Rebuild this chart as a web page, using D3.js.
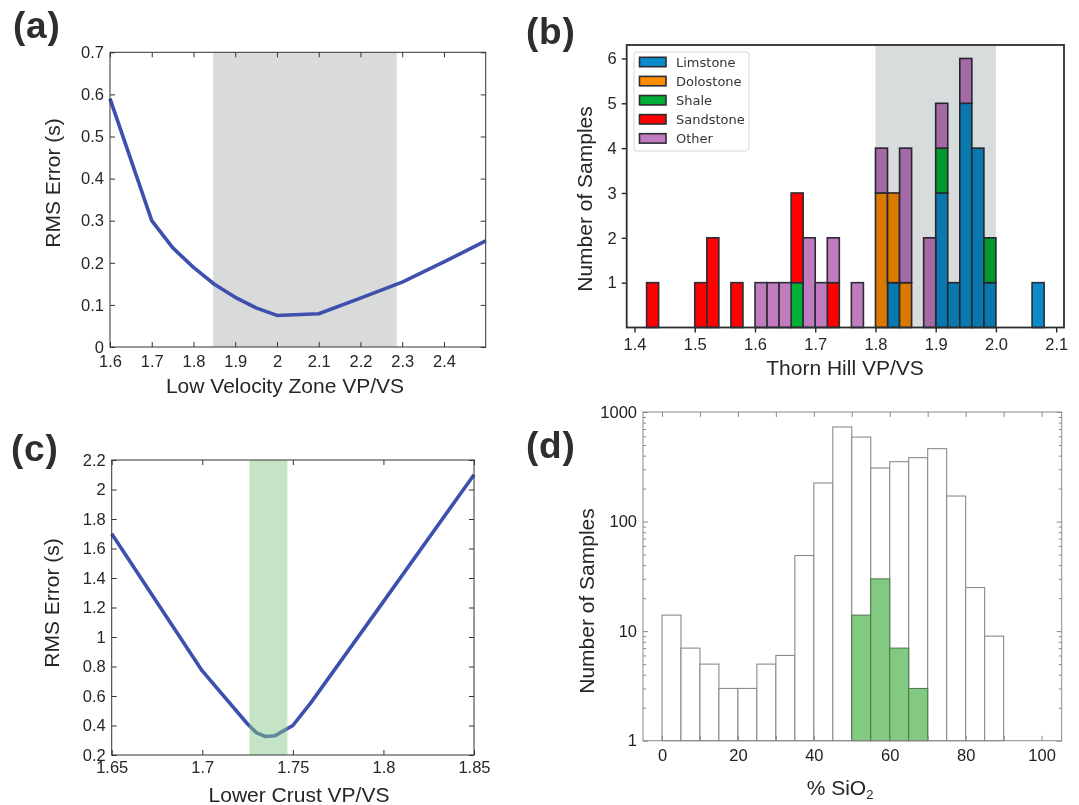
<!DOCTYPE html>
<html><head><meta charset="utf-8">
<script src="https://cdn.jsdelivr.net/npm/d3@7"></script>
<style>
body{margin:0;background:#fff}
svg{display:block}
text{font-family:"Liberation Sans",Arial,Helvetica,sans-serif}
</style>
</head><body>
<svg id="chart" width="1079" height="805"></svg>
<script>
// ---------------- DATA ----------------
// (a) Low velocity zone
const lvzVpVs = [1.6, 1.7, 1.75, 1.8, 1.85, 1.9, 1.95, 2.0, 2.1, 2.2, 2.3, 2.4, 2.5];
const lvzRms  = [0.59, 0.30, 0.236, 0.189, 0.149, 0.118, 0.093, 0.075, 0.079, 0.116, 0.154, 0.202, 0.252];
const lvzBand = [1.847, 2.287];
const lvzXTicks = [1.6, 1.7, 1.8, 1.9, 2.0, 2.1, 2.2, 2.3, 2.4];
const lvzYTicks = [0, 0.1, 0.2, 0.3, 0.4, 0.5, 0.6, 0.7];

// (b) Thorn Hill histogram (bin starts, width 0.02)
const thBinStarts = [1.42,1.50,1.52,1.56,1.60,1.62,1.64,1.66,1.68,1.70,1.72,1.76,1.80,1.82,1.84,1.88,1.90,1.92,1.94,1.96,1.98,2.06];
const thBinWidth = 0.02;
const limestone = [0,0,0,0,0,0,0,0,0,0,0,0,0,1,0,0,3,1,5,4,1,1];
const dolostone = [0,0,0,0,0,0,0,0,0,0,0,0,3,2,1,0,0,0,0,0,0,0];
const shale     = [0,0,0,0,0,0,0,1,0,0,0,0,0,0,0,0,1,0,0,0,1,0];
const sandstone = [1,1,2,1,0,0,0,2,0,0,1,0,0,0,0,0,0,0,0,0,0,0];
const other     = [0,0,0,0,1,1,1,0,2,1,1,1,1,0,3,2,1,0,1,0,0,0];
const rockTypes = ["Limstone", "Dolostone", "Shale", "Sandstone", "Other"];
const thBand = [1.8, 2.0];
const thXTicks = [1.4, 1.5, 1.6, 1.7, 1.8, 1.9, 2.0, 2.1];
const thYTicks = [1, 2, 3, 4, 5, 6];

// (c) Lower crust
const lcVpVs = [1.65, 1.70, 1.725, 1.73, 1.735, 1.74, 1.75, 1.76, 1.80, 1.85];
const lcRms  = [1.70, 0.77, 0.41, 0.35, 0.325, 0.33, 0.40, 0.555, 1.24, 2.10];
const lcBand = [1.726, 1.747];
const lcXTicks = [1.65, 1.7, 1.75, 1.8, 1.85];
const lcYTicks = [0.2, 0.4, 0.6, 0.8, 1.0, 1.2, 1.4, 1.6, 1.8, 2.0, 2.2];

// (d) SiO2 histogram (bin starts, width 5)
const sioBinStarts = [0,5,10,15,20,25,30,35,40,45,50,55,60,65,70,75,80,85];
const sioBinWidth = 5;
const sioAll = [14,7,5,3,3,5,6,49,225,730,590,308,352,383,463,171,25,9];
const sioSubStarts = [50,55,60,65];
const sioSub = [14,30,7,3];
const sioXTicks = [0,20,40,60,80,100];
const sioXMinor = [10,30,50,70,90];
const sioYTicks = [1,10,100,1000];

// ---------------- HELPERS ----------------
const svg = d3.select("#chart");
svg.append("rect").attr("width",1079).attr("height",805).attr("fill","#fff");
const fmtM = v => String(+v.toFixed(3));

function styleAxis(sel, color, fs, tcolor){
  sel.select(".domain").remove();
  sel.selectAll(".tick line").attr("stroke", color).attr("stroke-width",1);
  sel.selectAll(".tick text").attr("fill", tcolor).style("font-size", fs+"px")
     .style("font-family","'Liberation Sans',Arial,sans-serif");
}

function boxAxes(g, x, y, xt, yt, o){
  const [x0,x1] = x.range(), [y0,y1] = y.range();
  const c = o.color, tl = o.tick || 5, fs = o.fs || 16.5, tc = o.tcolor || "#262626";
  g.append("g").attr("transform",`translate(0,${y0})`)
    .call(d3.axisBottom(x).tickValues(xt).tickSizeInner(-tl).tickSizeOuter(0).tickPadding(o.xpad).tickFormat(o.xfmt))
    .call(s=>styleAxis(s,c,fs,tc));
  g.append("g").attr("transform",`translate(0,${y1})`)
    .call(d3.axisTop(x).tickValues(o.xtTop||xt).tickSizeInner(-tl).tickSizeOuter(0).tickFormat(""))
    .call(s=>styleAxis(s,c,fs,tc));
  g.append("g").attr("transform",`translate(${x0},0)`)
    .call(d3.axisLeft(y).tickValues(yt).tickSizeInner(-tl).tickSizeOuter(0).tickPadding(o.ypad).tickFormat(o.yfmt))
    .call(s=>styleAxis(s,c,fs,tc));
  g.append("g").attr("transform",`translate(${x1},0)`)
    .call(d3.axisRight(y).tickValues(yt).tickSizeInner(-tl).tickSizeOuter(0).tickFormat(""))
    .call(s=>styleAxis(s,c,fs,tc));
  g.append("rect").attr("x",x0).attr("y",y1).attr("width",x1-x0).attr("height",y0-y1)
    .attr("fill","none").attr("stroke",c).attr("stroke-width",1);
}

function axisLabel(g, txt, x, y, rot, fs, color){
  const t = g.append("text").attr("text-anchor","middle").attr("fill",color||"#262626")
    .style("font-size",(fs||21)+"px");
  if(rot) t.attr("transform",`translate(${x},${y}) rotate(-90)`);
  else t.attr("x",x).attr("y",y);
  t.text(txt);
  return t;
}

function panelLetter(txt, x, y){
  svg.append("text").attr("x",x).attr("y",y).attr("fill","#2e2e2e")
    .style("font-size","37px").style("font-weight","bold").style("letter-spacing","0.8px").text(txt);
}

const lineColor = "#3d50ad";

// ---------------- PANEL A ----------------
{
  const g = svg.append("g");
  const x = d3.scaleLinear().domain([1.6,2.5]).range([110,485.7]);
  const y = d3.scaleLinear().domain([0,0.7]).range([347,52.3]);
  g.append("rect").attr("x",x(lvzBand[0])).attr("y",y(0.7))
    .attr("width",x(lvzBand[1])-x(lvzBand[0])).attr("height",y(0)-y(0.7)).attr("fill","#d9dbdb");
  g.append("path").datum(d3.zip(lvzVpVs,lvzRms))
    .attr("d",d3.line().x(d=>x(d[0])).y(d=>y(d[1])))
    .attr("fill","none").attr("stroke",lineColor).attr("stroke-width",3.6).attr("stroke-linejoin","round");
  boxAxes(g,x,y,lvzXTicks,lvzYTicks,{color:"#333",xpad:8,ypad:6,xfmt:fmtM,yfmt:fmtM});
  axisLabel(g,"Low Velocity Zone VP/VS",285,393,false);
  axisLabel(g,"RMS Error (s)",60,183,true);
}

// ---------------- PANEL B ----------------
{
  const g = svg.append("g");
  const x = d3.scaleLinear().domain([1.387,2.113]).range([626.7,1064]);
  const y = d3.scaleLinear().domain([0,6.3]).range([327.5,45]);
  const colors = {"Limstone":"#0a8bcb","Dolostone":"#ff8c00","Shale":"#00b036","Sandstone":"#ff0000","Other":"#c17bbf"};
  const rows = thBinStarts.map((b,i)=>({bin:b,"Limstone":limestone[i],"Dolostone":dolostone[i],"Shale":shale[i],"Sandstone":sandstone[i],"Other":other[i]}));
  const stack = d3.stack().keys(rockTypes)(rows);
  stack.forEach(layer=>{
    g.append("g").selectAll("rect").data(layer.filter(d=>d[1]-d[0]>0)).join("rect")
      .attr("x",d=>x(d.data.bin)).attr("width",d=>x(d.data.bin+thBinWidth)-x(d.data.bin))
      .attr("y",d=>y(d[1])).attr("height",d=>y(d[0])-y(d[1]))
      .attr("fill",colors[layer.key]).attr("stroke","#2c2c34").attr("stroke-width",1.6);
  });
  // shaded span (multiplied over bars)
  g.append("rect").attr("x",x(thBand[0])).attr("y",y(6.3)).attr("width",x(thBand[1])-x(thBand[0]))
    .attr("height",y(0)-y(6.3)).attr("fill","#d9dcdc").style("mix-blend-mode","multiply");
  // axes
  const ax = g.append("g").attr("transform",`translate(0,${y(0)})`)
    .call(d3.axisBottom(x).tickValues(thXTicks).tickSizeInner(5).tickSizeOuter(0).tickPadding(6).tickFormat(d3.format(".1f")));
  styleAxis(ax,"#262626",16.5,"#262626");
  ax.selectAll(".tick line").attr("stroke-width",1.4);
  const ay = g.append("g").attr("transform",`translate(${x.range()[0]},0)`)
    .call(d3.axisLeft(y).tickValues(thYTicks).tickSizeInner(5).tickSizeOuter(0).tickPadding(5).tickFormat(d3.format("d")));
  styleAxis(ay,"#262626",16.5,"#262626");
  ay.selectAll(".tick line").attr("stroke-width",1.4);
  g.append("rect").attr("x",x.range()[0]).attr("y",y(6.3)).attr("width",x.range()[1]-x.range()[0])
    .attr("height",y(0)-y(6.3)).attr("fill","none").attr("stroke","#2a2d32").attr("stroke-width",1.8);
  // legend
  const lg = g.append("g");
  lg.append("rect").attr("x",634).attr("y",52).attr("width",115).attr("height",99).attr("rx",3)
    .attr("fill","#fff").attr("fill-opacity",0.85).attr("stroke","#d6d6d6").attr("stroke-width",1);
  rockTypes.forEach((k,i)=>{
    const cy = 62 + i*19.1;
    lg.append("rect").attr("x",639.5).attr("y",cy-4.7).attr("width",26.5).attr("height",9.4)
      .attr("fill",colors[k]).attr("stroke","#2c2c34").attr("stroke-width",1.6);
    lg.append("text").attr("x",676).attr("y",cy).attr("dy","0.36em").attr("fill","#333")
      .style("font-family","'DejaVu Sans',sans-serif").style("font-size","13px").text(k);
  });
  axisLabel(g,"Thorn Hill VP/VS",845,375,false);
  axisLabel(g,"Number of Samples",592,199,true);
}

// ---------------- PANEL C ----------------
{
  const g = svg.append("g");
  const x = d3.scaleLinear().domain([1.65,1.85]).range([111.7,474]);
  const y = d3.scaleLinear().domain([0.2,2.2]).range([755,460]);
  g.append("path").datum(d3.zip(lcVpVs,lcRms))
    .attr("d",d3.line().x(d=>x(d[0])).y(d=>y(d[1])))
    .attr("fill","none").attr("stroke",lineColor).attr("stroke-width",3.6).attr("stroke-linejoin","round");
  g.append("rect").attr("x",x(lcBand[0])).attr("y",y(2.2))
    .attr("width",x(lcBand[1])-x(lcBand[0])).attr("height",y(0.2)-y(2.2))
    .attr("fill","rgb(134,199,134)").attr("fill-opacity",0.48);
  boxAxes(g,x,y,lcXTicks,lcYTicks,{color:"#333",xpad:6,ypad:6,xfmt:fmtM,yfmt:fmtM});
  axisLabel(g,"Lower Crust VP/VS",299,802,false);
  axisLabel(g,"RMS Error (s)",59,603,true);
}

// ---------------- PANEL D ----------------
{
  const g = svg.append("g");
  const x = d3.scaleLinear().domain([-5,105.3]).range([643,1061.7]);
  const y = d3.scaleLog().domain([1,1000]).range([740.7,412]);
  g.append("g").selectAll("rect").data(sioBinStarts.map((b,i)=>({b,v:sioAll[i]}))).join("rect")
    .attr("x",d=>x(d.b)).attr("width",d=>x(d.b+sioBinWidth)-x(d.b))
    .attr("y",d=>y(d.v)).attr("height",d=>y(1)-y(d.v))
    .attr("fill","#fff").attr("stroke","#8a8a8a").attr("stroke-width",1.1);
  g.append("g").selectAll("rect").data(sioSubStarts.map((b,i)=>({b,v:sioSub[i]}))).join("rect")
    .attr("x",d=>x(d.b)).attr("width",d=>x(d.b+sioBinWidth)-x(d.b))
    .attr("y",d=>y(d.v)).attr("height",d=>y(1)-y(d.v))
    .attr("fill","#82ca82").attr("stroke","#4f754f").attr("stroke-width",1);
  const minorY = [];
  [1,10,100].forEach(d=>{ for(let k=2;k<=9;k++) minorY.push(d*k); });
  boxAxes(g,x,y,sioXTicks.concat(sioXMinor),sioYTicks,{color:"#8a8a8a",xpad:9,ypad:6,
     xfmt:v=>sioXTicks.includes(v)?String(v):"",yfmt:d3.format("d"),tcolor:"#222"});
  g.append("g").attr("transform",`translate(${x.range()[0]},0)`)
    .call(d3.axisLeft(y).tickValues(minorY).tickSizeInner(-3).tickSizeOuter(0).tickFormat(""))
    .call(s=>styleAxis(s,"#8a8a8a",15,"#222"));
  g.append("g").attr("transform",`translate(${x.range()[1]},0)`)
    .call(d3.axisRight(y).tickValues(minorY).tickSizeInner(-3).tickSizeOuter(0).tickFormat(""))
    .call(s=>styleAxis(s,"#8a8a8a",15,"#222"));
  const t = axisLabel(g,"",840,795,false);
  t.append("tspan").text("% SiO");
  t.append("tspan").attr("dy","0.3em").style("font-size","13px").text("2");
  axisLabel(g,"Number of Samples",594,601,true);
}

// ---------------- PANEL LETTERS ----------------
panelLetter("(a)",13,38);
panelLetter("(b)",526,44);
panelLetter("(c)",11,461);
panelLetter("(d)",526,458);
</script>
</body></html>
